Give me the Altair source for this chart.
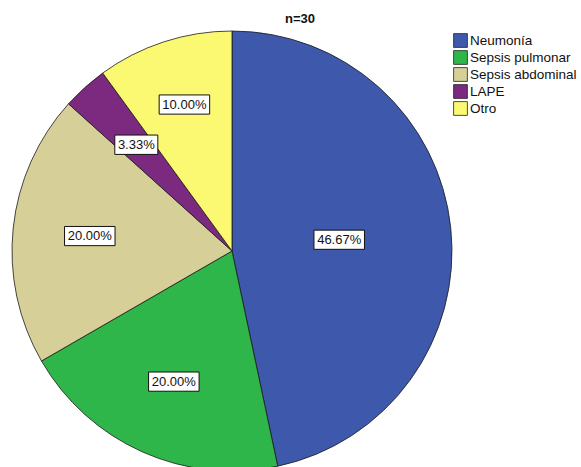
import altair as alt
import pandas as pd

categories = ["Neumonía", "Sepsis pulmonar", "Sepsis abdominal", "LAPE", "Otro"]
counts = [14, 6, 6, 1, 3]
labels = ["46.67%", "20.00%", "20.00%", "3.33%", "10.00%"]
colors = ["#3E58AC", "#2FB64A", "#D6CF98", "#7B2A7F", "#FBF872"]
title_text = "n=30"

df = pd.DataFrame({"cat": categories, "n": counts, "label": labels,
                   "idx": list(range(len(categories)))})

FONT = "Liberation Sans"
R = 220

base = alt.Chart(df)

pie = base.mark_arc(outerRadius=R, stroke="#1a1a1a", strokeWidth=0.8).encode(
    theta=alt.Theta("n:Q", stack=True),
    order=alt.Order("idx:Q"),
    x=alt.value(R), y=alt.value(R),
    color=alt.Color("cat:N", sort=categories,
                    scale=alt.Scale(domain=categories, range=colors),
                    legend=alt.Legend(title=None, orient="none", legendX=441, legendY=2,
                                      symbolType="square", symbolSize=190,
                                      symbolStrokeColor="#222", symbolStrokeWidth=0.8,
                                      symbolOpacity=1, labelFont=FONT, labelFontSize=13.5,
                                      labelColor="#111", rowPadding=0, padding=0,
                                      labelOffset=2)),
)

pos = base.transform_joinaggregate(total="sum(n)").transform_window(
    cum="sum(n)", sort=[alt.SortField("idx")]
).transform_calculate(
    mid="2*PI*(datum.cum - datum.n/2)/datum.total",
    frac="datum.cat == 'Neumonía' ? 0.49 : (datum.cat == 'Otro' ? 0.70 : 0.65)",
).transform_calculate(
    px="datum.frac*sin(datum.mid)",
    py="datum.frac*cos(datum.mid)",
)

xs = alt.X("px:Q", scale=alt.Scale(domain=[-1, 1], range=[0, 2 * R]), axis=None)
ys = alt.Y("py:Q", scale=alt.Scale(domain=[-1, 1], range=[2 * R, 0]), axis=None)

boxes = pos.mark_point(filled=True, fill="white", stroke="#111", strokeWidth=1, opacity=1).encode(
    x=xs, y=ys,
    shape=alt.condition("length(datum.label) < 6",
                        alt.value("M-1,-0.45L1,-0.45L1,0.45L-1,0.45Z"),
                        alt.value("M-1,-0.38L1,-0.38L1,0.38L-1,0.38Z")),
    size=alt.condition("length(datum.label) < 6", alt.value(1850), alt.value(2550)),
)

texts = pos.mark_text(font=FONT, fontSize=13, color="#111", baseline="middle", align="center").encode(
    x=xs, y=ys, text="label:N"
)

title = alt.Chart(pd.DataFrame({"t": [title_text]})).mark_text(
    font=FONT, fontSize=13, fontWeight="bold", color="#111", align="center", baseline="middle"
).encode(x=alt.value(288), y=alt.value(-12), text="t:N")

chart = alt.layer(pie, boxes, texts, title).properties(
    width=440, height=430,
    padding={"left": 12, "top": 31, "right": 129, "bottom": 6},
    autosize=alt.AutoSizeParams(type="none"),
    background="white",
).configure_view(stroke=None)

chart.save("out.html", embed_options={"renderer": "svg", "actions": False})
